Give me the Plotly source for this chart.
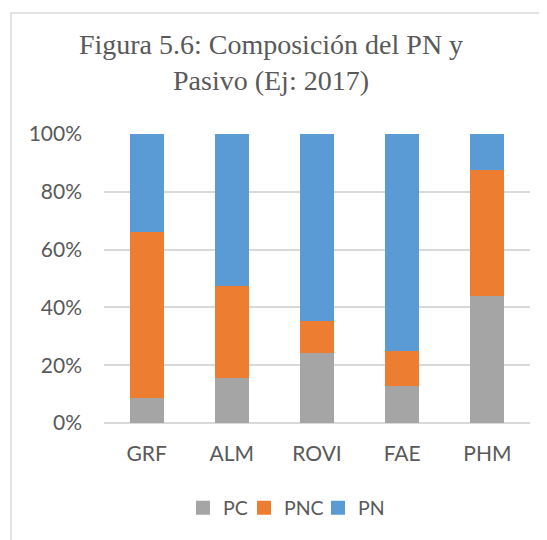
import plotly.graph_objects as go

categories = ["GRF", "ALM", "ROVI", "FAE", "PHM"]
pc = [9.0, 15.9, 24.5, 13.0, 44.2]
pnc = [57.6, 31.9, 11.1, 12.3, 43.6]
pn = [33.4, 52.2, 64.4, 74.7, 12.2]
tick_vals = [0, 20, 40, 60, 80, 100]
tick_text = ["0%", "20%", "40%", "60%", "80%", "100%"]

OFF = 8  # page body margin
W, H = 539, 532
L, R, T, B = 96, 17, 126, 117
pw, ph = W - L - R, H - T - B

def px(x):
    return (x - OFF - L) / pw

def py(y):
    return (H - B - (y - OFF)) / ph

GRAY, ORANGE, BLUE = "#a5a5a5", "#ed7d31", "#5b9bd5"

fig = go.Figure()
fig.add_trace(go.Bar(name="PC", x=categories, y=pc, marker=dict(color=GRAY, line=dict(color=GRAY, width=2)), legend="legend"))
fig.add_trace(go.Bar(name="PNC", x=categories, y=pnc, marker=dict(color=ORANGE, line=dict(color=ORANGE, width=2)), legend="legend2"))
fig.add_trace(go.Bar(name="PN", x=categories, y=pn, marker=dict(color=BLUE, line=dict(color=BLUE, width=2)), legend="legend3"))

FONT = "Lato, Open Sans, sans-serif"
TXT = "#595959"
leg_common = dict(orientation="h", xanchor="left", y=py(508), yanchor="middle",
                  font=dict(size=19.5, color=TXT, family=FONT),
                  bgcolor="rgba(0,0,0,0)", borderwidth=0)

fig.update_layout(
    width=W, height=H,
    margin=dict(l=L, r=R, t=T, b=B),
    barmode="stack",
    bargap=0.624,
    paper_bgcolor="white",
    plot_bgcolor="white",
    font=dict(family=FONT, size=19.5, color=TXT),
    title=dict(
        text="Figura 5.6: Composición del PN y<br>Pasivo (Ej: 2017)",
        font=dict(family="Liberation Serif, Times New Roman, serif", size=28, color=TXT),
        x=(271 - OFF) / W, xanchor="center", xref="container",
        y=1 - 46 / H, yanchor="top", yref="container",
    ),
    xaxis=dict(showgrid=False, showline=False, ticks="", ticklabelstandoff=16,
               tickfont=dict(size=21, color=TXT)),
    yaxis=dict(
        range=[0, 100], tickvals=tick_vals, ticktext=tick_text,
        showgrid=True, gridcolor="#d9d9d9", gridwidth=1.5,
        zeroline=True, zerolinecolor="#d9d9d9", zerolinewidth=1.5,
        showline=False, ticks="", ticklabelstandoff=21,
        tickfont=dict(size=21, color=TXT),
    ),
    legend=dict(x=px(183), **leg_common),
    legend2=dict(x=px(244), **leg_common),
    legend3=dict(x=px(318), **leg_common),
    showlegend=True,
    shapes=[dict(
        type="rect", xref="paper", yref="paper",
        x0=px(11), x1=px(570), y0=py(570), y1=py(13),
        line=dict(color="#d9d9d9", width=1.5), fillcolor="rgba(0,0,0,0)", layer="below",
    )],
)

fig.write_html("out.html")
